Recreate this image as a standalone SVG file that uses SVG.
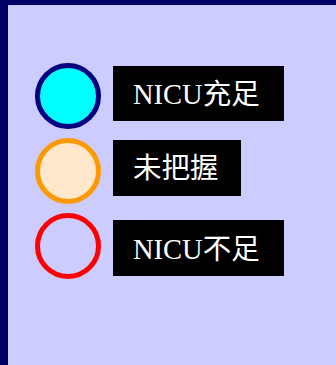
<svg xmlns="http://www.w3.org/2000/svg" width="336" height="365" viewBox="0 0 336 365">
<style>
.lbl{fill:#000000}
.txt{fill:#ffffff;font-family:"Liberation Serif","Noto Sans CJK SC",serif;font-size:28.5px}
</style>
<rect x="0" y="0" width="336" height="365" fill="#000066"/>
<rect x="8" y="5" width="328" height="360" fill="#ccccff"/>
<g id="item-nicu-enough">
<circle cx="68" cy="96" r="30.5" fill="#00ffff" stroke="#000080" stroke-width="5"/>
<rect class="lbl" x="113" y="66" width="171" height="55"/>
<text class="txt" x="133" y="104">NICU充足</text>
</g>
<g id="item-unknown">
<circle cx="68" cy="171" r="30.5" fill="#ffe8cc" stroke="#ff9900" stroke-width="5"/>
<rect class="lbl" x="113" y="140" width="128" height="56"/>
<text class="txt" x="133" y="178">未把握</text>
</g>
<g id="item-nicu-short">
<circle cx="68" cy="246" r="30.5" fill="none" stroke="#ff0000" stroke-width="5"/>
<rect class="lbl" x="113" y="220" width="171" height="56"/>
<text class="txt" x="133" y="259">NICU不足</text>
</g>
<g id="connectors"/>
</svg>
